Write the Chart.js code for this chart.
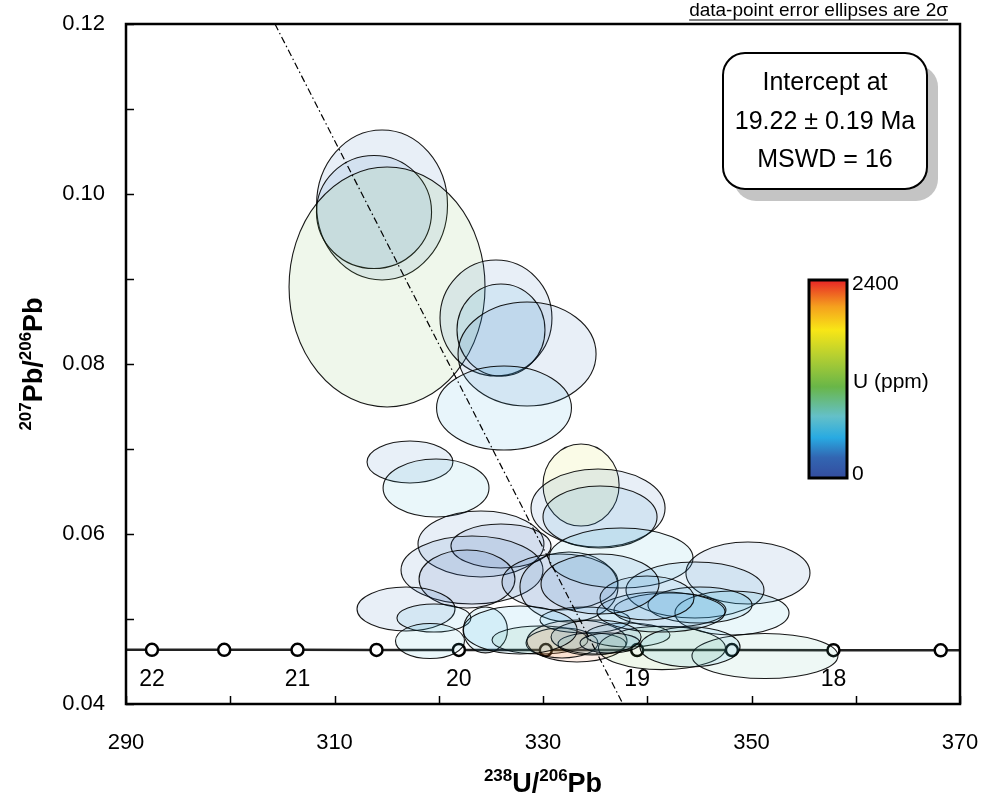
<!DOCTYPE html>
<html><head><meta charset="utf-8">
<script src="https://cdn.jsdelivr.net/npm/chart.js@4.4.0/dist/chart.umd.min.js"></script>
<style>html,body{margin:0;padding:0;background:#fff;}canvas{display:block;}</style>
</head><body>
<canvas id="c" width="982" height="803"></canvas>
<script>
// ---------- data ----------
// concordia curve (238U/206Pb, 207Pb/206Pb)
const concX = [290, 292.49, 299.42, 306.45, 314.03, 321.93, 330.27, 339.03, 348.12, 357.86, 368.15, 370];
const concY = [0.04638, 0.04638, 0.04637, 0.04637, 0.04636, 0.04636, 0.04635, 0.04635, 0.04634, 0.04633, 0.04632, 0.04632];
// age markers on concordia (every 0.5 Ma, 22 to 17.5 Ma)
const markerAge = [22, 21.5, 21, 20.5, 20, 19.5, 19, 18.5, 18, 17.5];
const markerX = [292.49, 299.42, 306.45, 314.03, 321.93, 330.27, 339.03, 348.12, 357.86, 368.15];
const markerY = [0.04638, 0.04637, 0.04637, 0.04636, 0.04636, 0.04635, 0.04635, 0.04634, 0.04633, 0.04632];
// labelled ages
const ageLabels = ['22', '21', '20', '19', '18'];
const ageLabelX = [292.49, 306.45, 321.93, 339.03, 357.86];
// discordia (regression) line end points
const discX = [304.29, 337.67];
const discY = [0.12, 0.04];
// error ellipses: centre, half-widths and U content
const ellX  = [314.56, 313.79, 315.04, 325.49, 325.97, 328.47, 326.26, 317.24, 319.74, 333.65, 335.28, 335.47, 324.05, 325.97, 323.19, 322.71, 331.63, 332.49, 337.48, 349.66, 344.58, 348.13, 316.86, 319.54, 319.16, 324.48, 329.71, 333.26, 331.82, 334.70, 334.03, 338.15, 341.41, 351.29, 344.10, 345.06, 342.18, 341.32, 339.98, 336.43, 335.09, 335.47, 327.80];
const ellY  = [0.09871, 0.09788, 0.08906, 0.08541, 0.08400, 0.08118, 0.07482, 0.06847, 0.06541, 0.06576, 0.06306, 0.06200, 0.05882, 0.05859, 0.05576, 0.05471, 0.05435, 0.05376, 0.05718, 0.05541, 0.05341, 0.05071, 0.05118, 0.05012, 0.04741, 0.04871, 0.04753, 0.04741, 0.04718, 0.04706, 0.04988, 0.04812, 0.04659, 0.04565, 0.04671, 0.05165, 0.05106, 0.05082, 0.05247, 0.04718, 0.04788, 0.05412, 0.04871];
const ellRx = [6.28, 5.52, 9.40, 5.37, 4.22, 6.62, 6.47, 4.12, 5.08, 3.65, 6.43, 5.47, 6.04, 4.80, 6.81, 4.60, 5.56, 4.70, 6.91, 5.95, 6.62, 5.47, 4.70, 3.55, 3.31, 2.11, 4.60, 4.80, 3.45, 3.26, 4.32, 4.03, 6.09, 7.00, 4.80, 4.99, 5.37, 6.14, 4.51, 2.88, 4.32, 5.66, 5.47];
const ellRy = [0.00882, 0.00665, 0.01412, 0.00682, 0.00541, 0.00612, 0.00494, 0.00247, 0.00341, 0.00482, 0.00459, 0.00365, 0.00388, 0.00259, 0.00400, 0.00341, 0.00329, 0.00412, 0.00353, 0.00365, 0.00329, 0.00259, 0.00259, 0.00165, 0.00206, 0.00270, 0.00165, 0.00247, 0.00176, 0.00129, 0.00153, 0.00141, 0.00255, 0.00265, 0.00235, 0.00212, 0.00200, 0.00235, 0.00259, 0.00118, 0.00200, 0.00353, 0.00282];
const ellU  = [250, 300, 1100, 250, 450, 250, 450, 300, 600, 1600, 250, 400, 250, 150, 250, 150, 200, 200, 600, 250, 400, 600, 250, 550, 600, 550, 1000, 2250, 2150, 800, 500, 550, 1100, 850, 550, 450, 350, 400, 350, 700, 300, 300, 500];
// colour scale
const uMin = 0, uMax = 2400;
const colorbarLabels = ['2400', 'U (ppm)', '0'];
// annotation texts
const boxLines = ['Intercept at', '19.22 \u00b1 0.19 Ma', 'MSWD = 16'];
const noteText = 'data-point error ellipses are 2\u03c3';

// ---------- styling ----------
const FONT = "'Liberation Sans', Arial, Helvetica, sans-serif";
const CMAP = [[0,[52,78,160]],[0.1,[50,102,178]],[0.2,[40,170,226]],[0.31,[100,192,200]],[0.46,[105,182,72]],[0.61,[178,206,50]],[0.75,[248,230,22]],[0.87,[245,160,30]],[1,[232,40,38]]];
function cmapRGB(f){
  f = Math.max(0, Math.min(1, f));
  for (let i = 1; i < CMAP.length; i++) {
    if (f <= CMAP[i][0]) {
      const a = CMAP[i-1], b = CMAP[i], t = (f - a[0])/(b[0]-a[0]);
      return a[1].map((v,k)=>Math.round(v + (b[1][k]-v)*t));
    }
  }
  return CMAP[CMAP.length-1][1];
}

Chart.defaults.font.family = FONT;
Chart.defaults.color = '#000';

const ellipsePlugin = {
  id: 'ellipses',
  beforeDraw(chart){
    const c = chart.ctx; c.save(); c.fillStyle = '#fff'; c.fillRect(0,0,chart.width,chart.height); c.restore();
  },
  afterDatasetDraw(chart, args){
    if (args.index !== 1) return;
    const c = chart.ctx, xs = chart.scales.x, ys = chart.scales.y, a = chart.chartArea;
    c.save();
    c.beginPath(); c.rect(a.left, a.top, a.right-a.left, a.bottom-a.top); c.clip();
    for (let i = 0; i < ellX.length; i++) {
      const cx = xs.getPixelForValue(ellX[i]), cy = ys.getPixelForValue(ellY[i]);
      const rx = Math.abs(xs.getPixelForValue(ellX[i]+ellRx[i]) - cx);
      const ry = Math.abs(ys.getPixelForValue(ellY[i]+ellRy[i]) - cy);
      const rgb = cmapRGB((ellU[i]-uMin)/(uMax-uMin));
      c.beginPath(); c.ellipse(cx, cy, rx, ry, 0, 0, Math.PI*2);
      c.fillStyle = `rgba(${rgb[0]},${rgb[1]},${rgb[2]},0.11)`;
      c.fill();
      c.lineWidth = 1.1; c.strokeStyle = 'rgba(0,0,0,0.9)'; c.stroke();
    }
    c.restore();
  },
  afterDraw(chart){
    const c = chart.ctx, xs = chart.scales.x, ys = chart.scales.y, a = chart.chartArea;
    c.save();
    // inward ticks
    c.strokeStyle = '#000'; c.lineWidth = 1.5;
    xs.ticks.forEach(t => { const px = Math.round(xs.getPixelForValue(t.value))+0.5; c.beginPath(); c.moveTo(px, a.bottom); c.lineTo(px, a.bottom-8); c.stroke(); });
    ys.ticks.forEach(t => { const py = Math.round(ys.getPixelForValue(t.value))+0.5; c.beginPath(); c.moveTo(a.left, py); c.lineTo(a.left+8, py); c.stroke(); });
    // frame
    c.lineWidth = 2.5; c.strokeRect(a.left, a.top, a.right-a.left, a.bottom-a.top);
    // concordia age labels
    c.fillStyle = '#000'; c.font = `23px ${FONT}`; c.textAlign = 'center'; c.textBaseline = 'middle';
    const ly = ys.getPixelForValue(concY[0]) + 30;
    ageLabels.forEach((s,i)=> c.fillText(s, xs.getPixelForValue(ageLabelX[i]), ly));
    // note text
    c.font = `19px ${FONT}`; c.textAlign = 'right'; c.textBaseline = 'alphabetic';
    c.fillText(noteText, 948, 16);
    const nw = c.measureText(noteText).width;
    c.lineWidth = 1; c.beginPath(); c.moveTo(948-nw, 20); c.lineTo(948, 20); c.stroke();
    // annotation box with shadow
    const bx = 723, by = 53, bw = 204, bh = 136, br = 22;
    c.fillStyle = '#c4c4c4'; c.beginPath(); c.roundRect(bx+11, by+12, bw, bh, br); c.fill();
    c.fillStyle = '#fff'; c.beginPath(); c.roundRect(bx, by, bw, bh, br); c.fill();
    c.lineWidth = 2; c.strokeStyle = '#000'; c.stroke();
    c.fillStyle = '#000'; c.font = `25px ${FONT}`; c.textAlign = 'center'; c.textBaseline = 'middle';
    [83, 122, 160].forEach((y,i)=> c.fillText(boxLines[i], bx+bw/2, y));
    // colour bar
    const cbx = 810, cby = 281, cbw = 36, cbh = 196;
    const g = c.createLinearGradient(0, cby+cbh, 0, cby);
    CMAP.forEach(s => g.addColorStop(s[0], `rgb(${s[1].join(',')})`));
    c.fillStyle = g; c.fillRect(cbx, cby, cbw, cbh);
    c.lineWidth = 3; c.strokeRect(cbx-1, cby-1, cbw+2, cbh+2);
    c.fillStyle = '#000'; c.font = `21px ${FONT}`; c.textAlign = 'left'; c.textBaseline = 'middle';
    c.fillText(colorbarLabels[0], 852, 284);
    c.fillText(colorbarLabels[1], 853, 382);
    c.fillText(colorbarLabels[2], 852, 474);
    // axis titles with superscripts
    function titled(parts, x, y, rot){
      c.save(); c.translate(x, y); if (rot) c.rotate(-Math.PI/2);
      let w = 0;
      parts.forEach(p => { c.font = `bold ${p[1]?17:27}px ${FONT}`; w += c.measureText(p[0]).width; });
      let cx = -w/2; c.textAlign = 'left'; c.textBaseline = 'alphabetic';
      parts.forEach(p => { c.font = `bold ${p[1]?17:27}px ${FONT}`; c.fillText(p[0], cx, p[1]? -11 : 0); cx += c.measureText(p[0]).width; });
      c.restore();
    }
    titled([['238',1],['U/',0],['206',1],['Pb',0]], 543, 792, false);
    titled([['207',1],['Pb/',0],['206',1],['Pb',0]], 42, 364, true);
    c.restore();
  }
};

new Chart(document.getElementById('c'), {
  type: 'scatter',
  data: { datasets: [
    { label: 'discordia', type: 'line', data: discX.map((x,i)=>({x, y: discY[i]})), borderColor: '#000', borderWidth: 1.2, borderDash: [7,3,1.5,3], pointRadius: 0, fill: false, order: 0 },
    { label: 'ellipses', data: ellX.map((x,i)=>({x, y: ellY[i]})), pointRadius: 0, showLine: false, order: 1 },
    { label: 'markers', data: markerX.map((x,i)=>({x, y: markerY[i]})), showLine: false, pointRadius: 6, pointBackgroundColor: '#fff', pointBorderColor: '#000', pointBorderWidth: 2.5, order: 2 },
    { label: 'concordia', type: 'line', data: concX.map((x,i)=>({x, y: concY[i]})), borderColor: '#222', borderWidth: 2.5, pointRadius: 0, fill: false, order: 3 }
  ]},
  options: {
    responsive: false, animation: false, events: [],
    layout: { padding: { top: 24, right: 22, left: 0, bottom: 0 } },
    plugins: { legend: { display: false }, tooltip: { enabled: false } },
    scales: {
      x: { type: 'linear', min: 290, max: 370,
        afterFit(s){ s.height = 99; s.paddingLeft = 0; s.paddingRight = 0; },
        grid: { display: false, drawTicks: false }, border: { display: false },
        ticks: { stepSize: 10, padding: 26, autoSkip: false, maxRotation: 0, color: '#000', font: { size: 22 },
          callback: v => ((Math.round(v) - 290) % 20 === 0) ? String(Math.round(v)) : '' } },
      y: { type: 'linear', min: 0.04, max: 0.12,
        afterFit(s){ s.width = 126; s.paddingTop = 0; s.paddingBottom = 0; },
        grid: { display: false, drawTicks: false }, border: { display: false },
        ticks: { stepSize: 0.01, padding: 21, autoSkip: false, color: '#000', font: { size: 22 },
          callback: v => (Math.round(v*100) % 2 === 0) ? v.toFixed(2) : '' } }
    }
  },
  plugins: [ellipsePlugin]
});
</script>
</body></html>
